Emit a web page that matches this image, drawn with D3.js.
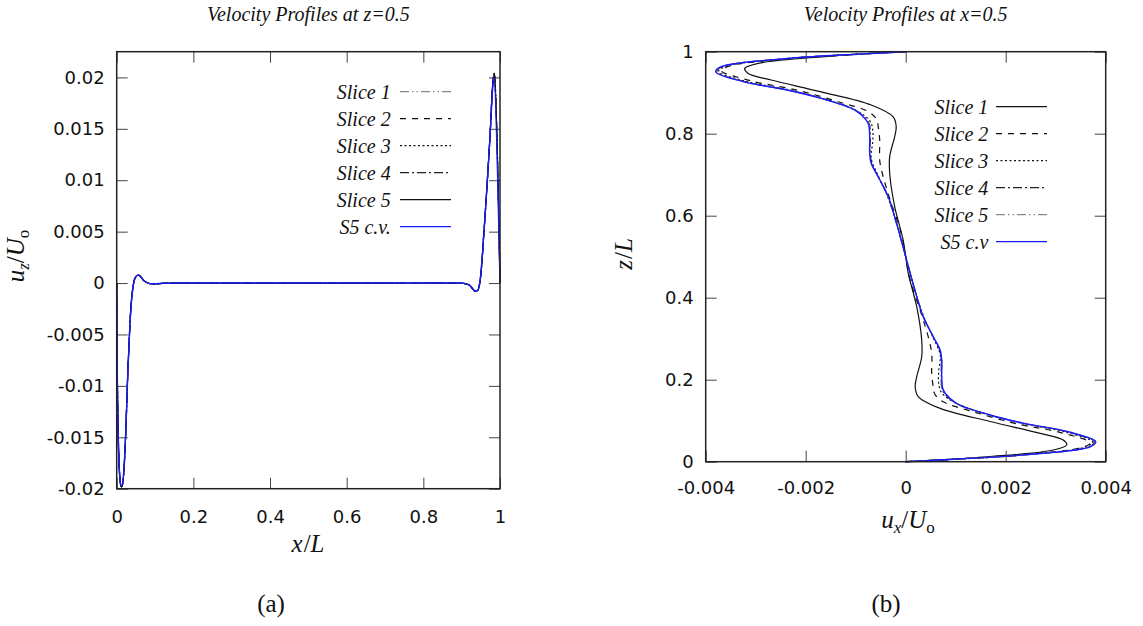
<!DOCTYPE html>
<html lang="en">
<head>
<meta charset="UTF-8">
<title>Velocity Profiles</title>
<script src="https://d3js.org/d3.v7.min.js"></script>
<style>
  body { margin: 0; background: #fff; }
  svg { display: block; }
  .tick text { font-family: "DejaVu Sans", sans-serif; font-size: 18px; fill: #111; }
  .tick line { stroke: #444; }
  .serif { font-family: "Liberation Serif", "Times New Roman", serif; fill: #111; }
</style>
</head>
<body>
<svg width="1143" height="626"></svg>
<script>
// ---- data ----
const seriesNames = ['Slice 1', 'Slice 2', 'Slice 3', 'Slice 4', 'Slice 5', 'S5 c.v.'];

const leftXTicks = [0, 0.2, 0.4, 0.6, 0.8, 1];
const leftXLabels = ['0', '0.2', '0.4', '0.6', '0.8', '1'];
const leftYTicks = [-0.02, -0.015, -0.01, -0.005, 0, 0.005, 0.01, 0.015, 0.02];
const leftYLabels = ['-0.02', '-0.015', '-0.01', '-0.005', '0', '0.005', '0.01', '0.015', '0.02'];

const rightXTicks = [-0.004, -0.002, 0, 0.002, 0.004];
const rightXLabels = ['-0.004', '-0.002', '0', '0.002', '0.004'];
const rightYTicks = [0, 0.2, 0.4, 0.6, 0.8, 1];
const rightYLabels = ['0', '0.2', '0.4', '0.6', '0.8', '1'];

// (a) u_z/U_o against x/L at z=0.5 -- slices 1-5 sit on top of each other
const leftSlices = [
  [0, 0], [0.0115, -0.0198], [0.0135, -0.0198], [0.0303, -0.0075], [0.036, -0.0030],
  [0.041, -0.0008], [0.048, 0.0005], [0.056, 0.0008], [0.063, 0.0006], [0.072, 0.0002],
  [0.085, -0.00004], [0.1, -0.00008], [0.12, -0.00003], [0.15, 0], [0.3, 0], [0.5, 0],
  [0.7, 0], [0.88, 0], [0.905, -0.00003], [0.92, -0.0002], [0.935, -0.0008],
  [0.942, -0.0007], [0.948, 0.0002], [0.958, 0.0049], [0.965, 0.0088], [0.974, 0.0143],
  [0.981, 0.0193], [0.985, 0.0204], [1, 0]
];
const leftCV = [
  [0, 0], [0.0115, -0.0197], [0.0135, -0.0197], [0.0303, -0.0076], [0.036, -0.0031],
  [0.041, -0.0009], [0.048, 0.0005], [0.056, 0.0008], [0.063, 0.0006], [0.072, 0.0002],
  [0.085, -0.00004], [0.1, -0.00007], [0.12, -0.00003], [0.15, 0], [0.3, 0], [0.5, 0],
  [0.7, 0], [0.88, 0], [0.905, -0.00003], [0.92, -0.0002], [0.935, -0.00078],
  [0.942, -0.0007], [0.948, 0.0003], [0.958, 0.0049], [0.965, 0.0088], [0.974, 0.0143],
  [0.981, 0.0190], [0.984, 0.0201], [1, 0]
];

// (b) z/L against u_x/U_o at x=0.5, points are [u, z]
const rightSlice1 = [
  [0, 0], [0.00162, 0.012], [0.00295, 0.0285], [0.00322, 0.041], [0.00315, 0.053],
  [0.00269, 0.069], [0.00169, 0.098], [0.00069, 0.130], [0.00025, 0.159], [0.00019, 0.183],
  [0.00022, 0.207], [0.00032, 0.256], [0.00032, 0.297], [0.00022, 0.378], [0.00005, 0.46],
  [0, 0.5], [-0.00005, 0.54], [-0.00022, 0.622], [-0.00032, 0.703], [-0.00032, 0.744],
  [-0.00022, 0.793], [-0.00019, 0.817], [-0.00025, 0.841], [-0.00069, 0.870],
  [-0.00169, 0.902], [-0.00269, 0.931], [-0.00315, 0.947], [-0.00322, 0.959],
  [-0.00295, 0.9715], [-0.00162, 0.988], [0, 1]
];
const rightSlice2 = [
  [0, 0], [0.00105, 0.007], [0.0024, 0.018], [0.0035, 0.034], [0.00369, 0.046],
  [0.0031, 0.071], [0.0022, 0.093], [0.00135, 0.122], [0.00075, 0.146], [0.00058, 0.165],
  [0.00055, 0.183], [0.00052, 0.216], [0.00052, 0.265], [0.00045, 0.305], [0.00033, 0.354],
  [0.00009, 0.443], [0, 0.5], [-0.00009, 0.557], [-0.00033, 0.646], [-0.00045, 0.695],
  [-0.00052, 0.735], [-0.00052, 0.784], [-0.00055, 0.817], [-0.00058, 0.835],
  [-0.00075, 0.854], [-0.00135, 0.878], [-0.0022, 0.907], [-0.0031, 0.929],
  [-0.00369, 0.954], [-0.0035, 0.966], [-0.0024, 0.982], [-0.00105, 0.993], [0, 1]
];
const rightSlice3 = [
  [0, 0], [0.001, 0.006], [0.0024, 0.017], [0.0036, 0.036], [0.00374, 0.048],
  [0.0032, 0.072], [0.0023, 0.094], [0.00165, 0.115], [0.001, 0.143], [0.00072, 0.168],
  [0.00066, 0.19], [0.00066, 0.22], [0.00069, 0.26], [0.00056, 0.3], [0.00036, 0.354],
  [0.00018, 0.42], [0, 0.5], [-0.00018, 0.58], [-0.00036, 0.646], [-0.00056, 0.7],
  [-0.00069, 0.74], [-0.00066, 0.78], [-0.00066, 0.81], [-0.00072, 0.832], [-0.001, 0.857],
  [-0.00165, 0.885], [-0.0023, 0.906], [-0.0032, 0.928], [-0.00374, 0.952],
  [-0.0036, 0.964], [-0.0024, 0.983], [-0.001, 0.994], [0, 1]
];
const rightSlice4 = [
  [0, 0], [0.00098, 0.006], [0.00232, 0.016], [0.00368, 0.037], [0.00377, 0.049],
  [0.00323, 0.073], [0.00233, 0.094], [0.00167, 0.114], [0.00101, 0.142], [0.00077, 0.167],
  [0.00072, 0.18], [0.00071, 0.207], [0.00071, 0.248], [0.00068, 0.272], [0.00055, 0.305],
  [0.00035, 0.354], [0.00018, 0.42], [0, 0.5], [-0.00018, 0.58], [-0.00035, 0.646],
  [-0.00055, 0.695], [-0.00068, 0.728], [-0.00071, 0.752], [-0.00071, 0.793],
  [-0.00072, 0.82], [-0.00077, 0.833], [-0.00101, 0.858], [-0.00167, 0.886],
  [-0.00233, 0.906], [-0.00323, 0.927], [-0.00377, 0.951], [-0.00368, 0.963],
  [-0.00232, 0.984], [-0.00098, 0.994], [0, 1]
];
const rightSlice5 = [
  [0, 0], [0.00096, 0.006], [0.0023, 0.016], [0.00369, 0.037], [0.00379, 0.049],
  [0.00324, 0.073], [0.00234, 0.094], [0.00168, 0.114], [0.00102, 0.142], [0.00078, 0.167],
  [0.00073, 0.179], [0.00072, 0.207], [0.00072, 0.248], [0.00069, 0.272], [0.00055, 0.305],
  [0.00035, 0.354], [0.00018, 0.42], [0, 0.5], [-0.00018, 0.58], [-0.00035, 0.646],
  [-0.00055, 0.695], [-0.00069, 0.728], [-0.00072, 0.752], [-0.00072, 0.793],
  [-0.00073, 0.821], [-0.00078, 0.833], [-0.00102, 0.858], [-0.00168, 0.886],
  [-0.00234, 0.906], [-0.00324, 0.927], [-0.00379, 0.951], [-0.00369, 0.963],
  [-0.0023, 0.984], [-0.00096, 0.994], [0, 1]
];
const rightCV = [
  [0, 0], [0.00095, 0.006], [0.00229, 0.016], [0.0037, 0.037], [0.0038, 0.049],
  [0.00325, 0.073], [0.00235, 0.094], [0.00169, 0.114], [0.00102, 0.142], [0.00079, 0.167],
  [0.00074, 0.179], [0.00072, 0.207], [0.00072, 0.248], [0.00069, 0.272], [0.00055, 0.305],
  [0.00035, 0.354], [0.00018, 0.42], [0, 0.5], [-0.00018, 0.58], [-0.00035, 0.646],
  [-0.00055, 0.695], [-0.00069, 0.728], [-0.00072, 0.752], [-0.00072, 0.793],
  [-0.00074, 0.821], [-0.00079, 0.833], [-0.00102, 0.858], [-0.00169, 0.886],
  [-0.00235, 0.906], [-0.00325, 0.927], [-0.0038, 0.951], [-0.0037, 0.963],
  [-0.00229, 0.984], [-0.00095, 0.994], [0, 1]
];

(function () {
  const svg = d3.select('svg');

  // line looks, by legend entry
  const looks = {
    solid:   { stroke: '#111', dash: null },
    dashed:  { stroke: '#111', dash: '6,6' },
    dotted:  { stroke: '#111', dash: '2,2.5' },
    dashdot: { stroke: '#222', dash: '9,3,2,3' },
    ddot:    { stroke: '#888', dash: '9,3,1.5,3,1.5,3' },
    blue:    { stroke: '#1a1aff', dash: null }
  };

  function drawPanel(cfg) {
    const x = d3.scaleLinear().domain(cfg.xDomain).range(cfg.xRange);
    const y = d3.scaleLinear().domain(cfg.yDomain).range(cfg.yRange);
    const g = svg.append('g');

    const fmt = (ticks, labels) => d => labels[ticks.indexOf(d)];

    g.append('g').attr('transform', `translate(0,${cfg.yRange[0]})`)
      .call(d3.axisBottom(x).tickValues(cfg.xTicks).tickFormat(fmt(cfg.xTicks, cfg.xLabels))
        .tickSize(-11).tickPadding(cfg.xPad));
    g.append('g').attr('transform', `translate(0,${cfg.yRange[1]})`)
      .call(d3.axisTop(x).tickValues(cfg.xTicks).tickFormat('').tickSize(-11));
    g.append('g').attr('transform', `translate(${cfg.xRange[0]},0)`)
      .call(d3.axisLeft(y).tickValues(cfg.yTicks).tickFormat(fmt(cfg.yTicks, cfg.yLabels))
        .tickSize(-11).tickPadding(12));
    g.append('g').attr('transform', `translate(${cfg.xRange[1]},0)`)
      .call(d3.axisRight(y).tickValues(cfg.yTicks).tickFormat('').tickSize(-11));
    g.selectAll('.domain').remove();

    // curves
    const line = d3.line()
      .x(d => x(d[0]))
      .y(d => y(d[1]))
      .curve(d3.curveCatmullRom.alpha(0.5));

    cfg.series.forEach(s => {
      const lk = looks[s.look];
      g.append('path')
        .attr('d', line(s.data))
        .attr('fill', 'none')
        .attr('stroke', lk.stroke)
        .attr('stroke-width', s.look === 'blue' ? 1.4 : 1.2)
        .attr('stroke-dasharray', lk.dash);
    });

    // frame
    g.append('rect')
      .attr('x', cfg.xRange[0]).attr('y', cfg.yRange[1])
      .attr('width', cfg.xRange[1] - cfg.xRange[0])
      .attr('height', cfg.yRange[0] - cfg.yRange[1])
      .attr('fill', 'none').attr('stroke', '#222').attr('stroke-width', 1.5);

    // legend
    cfg.series.forEach((s, i) => {
      const ly = cfg.legend.y0 + i * cfg.legend.step;
      const lk = looks[s.look];
      g.append('text').attr('class', 'serif')
        .attr('x', cfg.legend.textX).attr('y', ly).attr('dy', '0.35em')
        .attr('text-anchor', 'end').attr('font-style', 'italic').attr('font-size', 20)
        .text(s.name);
      g.append('line')
        .attr('x1', cfg.legend.x1).attr('x2', cfg.legend.x2)
        .attr('y1', ly).attr('y2', ly)
        .attr('stroke', lk.stroke).attr('stroke-width', 1.2)
        .attr('stroke-dasharray', lk.dash);
    });

    // title
    g.append('text').attr('class', 'serif')
      .attr('x', (cfg.xRange[0] + cfg.xRange[1]) / 2).attr('y', 14).attr('dy', '0.35em')
      .attr('text-anchor', 'middle').attr('font-style', 'italic').attr('font-size', 20)
      .text(cfg.title);
  }

  drawPanel({
    title: 'Velocity Profiles at z=0.5',
    xDomain: [0, 1], xRange: [116.7, 500],
    yDomain: [-0.02, 0.0225], yRange: [488.7, 51.7],
    xTicks: leftXTicks, xLabels: leftXLabels, yTicks: leftYTicks, yLabels: leftYLabels,
    xPad: 22,
    series: [
      { name: seriesNames[0], look: 'ddot', data: leftSlices },
      { name: seriesNames[1], look: 'dashed', data: leftSlices },
      { name: seriesNames[2], look: 'dotted', data: leftSlices },
      { name: seriesNames[3], look: 'dashdot', data: leftSlices },
      { name: seriesNames[4], look: 'solid', data: leftSlices },
      { name: seriesNames[5], look: 'blue', data: leftCV }
    ],
    legend: { y0: 91.7, step: 27, textX: 390.7, x1: 400, x2: 451 }
  });

  drawPanel({
    title: 'Velocity Profiles at x=0.5',
    xDomain: [-0.004, 0.004], xRange: [705.7, 1105.7],
    yDomain: [0, 1], yRange: [461.7, 51.7],
    xTicks: rightXTicks, xLabels: rightXLabels, yTicks: rightYTicks, yLabels: rightYLabels,
    xPad: 20,
    series: [
      { name: seriesNames[0], look: 'solid', data: rightSlice1 },
      { name: seriesNames[1], look: 'dashed', data: rightSlice2 },
      { name: seriesNames[2], look: 'dotted', data: rightSlice3 },
      { name: seriesNames[3], look: 'dashdot', data: rightSlice4 },
      { name: seriesNames[4], look: 'ddot', data: rightSlice5 },
      { name: 'S5 c.v', look: 'blue', data: rightCV }
    ],
    legend: { y0: 106.7, step: 27, textX: 988.3, x1: 996, x2: 1047 }
  });

  // axis labels, math style
  function mathLabel(xp, yp, rot, parts) {
    const t = svg.append('text').attr('class', 'serif')
      .attr('font-size', 25).attr('text-anchor', 'middle')
      .attr('transform', `translate(${xp},${yp}) rotate(${rot})`).attr('dy', '0.35em');
    parts.forEach(p => {
      t.append('tspan')
        .attr('font-style', p.it ? 'italic' : 'normal')
        .attr('font-size', p.sub ? 17 : 25)
        .attr('dy', p.dy || 0)
        .attr('dx', p.dx || 0)
        .text(p.s);
    });
  }
  mathLabel(308, 552, 0, [{ s: 'x', it: 1 }, { s: '/', dx: 1 }, { s: 'L', it: 1 }]);
  mathLabel(908, 528, 0, [{ s: 'u', it: 1 }, { s: 'x', it: 1, sub: 1, dy: 5 }, { s: '/', dy: -5 },
    { s: 'U', it: 1 }, { s: 'o', sub: 1, dy: 5 }]);
  mathLabel(24, 256, -90, [{ s: 'u', it: 1 }, { s: 'z', it: 1, sub: 1, dy: 5 }, { s: '/', dy: -5 },
    { s: 'U', it: 1 }, { s: 'o', sub: 1, dy: 5 }]);
  mathLabel(632, 254, -90, [{ s: 'z', it: 1 }, { s: '/', dx: 1 }, { s: 'L', it: 1 }]);

  // panel captions
  svg.append('text').attr('class', 'serif').attr('x', 271).attr('y', 603).attr('dy', '0.35em')
    .attr('text-anchor', 'middle').attr('font-size', 25).text('(a)');
  svg.append('text').attr('class', 'serif').attr('x', 886).attr('y', 603).attr('dy', '0.35em')
    .attr('text-anchor', 'middle').attr('font-size', 25).text('(b)');
})();
</script>
</body>
</html>
